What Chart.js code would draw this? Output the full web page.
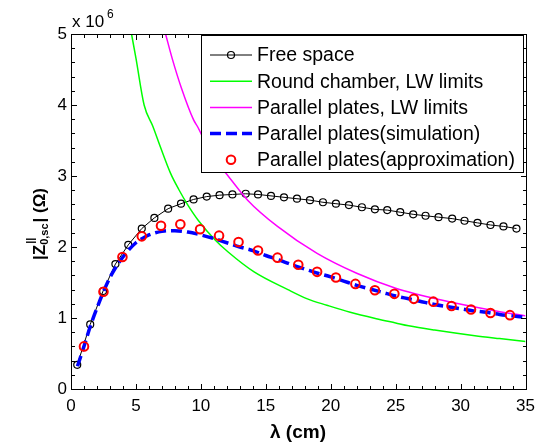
<!DOCTYPE html>
<html>
<head>
  <title>Longitudinal impedance vs wavelength</title>
  <script src="https://cdn.jsdelivr.net/npm/chart.js"></script>
  <style>
    body { margin: 0; background: #fff; }
    canvas { display: block; }
  </style>
</head>
<body>
  <canvas id="myChart" width="542" height="445"></canvas>
  <script>
    // values in units of 10^6 Ohm, lambda in cm
    const freeX = [0.48, 1.48, 2.47, 3.42, 4.41, 5.45, 6.42, 7.48, 8.47, 9.44, 10.45, 11.44, 12.43, 13.45, 14.4, 15.4, 16.4, 17.4, 18.4, 19.4, 20.4, 21.4, 22.4, 23.4, 24.35, 25.35, 26.35, 27.3, 28.3, 29.35, 30.3, 31.3, 32.3, 33.3, 34.3];
    const freeY = [0.34, 0.91, 1.38, 1.76, 2.03, 2.26, 2.41, 2.54, 2.61, 2.67, 2.71, 2.73, 2.74, 2.75, 2.74, 2.72, 2.70, 2.68, 2.66, 2.63, 2.61, 2.59, 2.56, 2.53, 2.52, 2.49, 2.46, 2.44, 2.42, 2.40, 2.37, 2.34, 2.31, 2.29, 2.26];

    const roundX = [4.66, 5.0, 5.63, 6.3, 6.9, 7.66, 8.3, 9.0, 9.82, 11.1, 12.1, 14.1, 16.7, 18.2, 19.7, 21.5, 23.5, 25.0, 26.0, 28.0, 31.1, 33.0, 35.0];
    const roundY = [5.0, 4.66, 4.0, 3.7, 3.4, 3.04, 2.81, 2.59, 2.37, 2.10, 1.93, 1.65, 1.40, 1.27, 1.18, 1.08, 0.99, 0.93, 0.89, 0.83, 0.75, 0.71, 0.67];

    const plateX = [7.28, 7.8, 8.5, 9.44, 9.76, 10.8, 12.1, 13.6, 15.9, 18.95, 22.0, 25.0, 28.6, 32.4, 35.0];
    const plateY = [5.0, 4.65, 4.24, 3.79, 3.69, 3.30, 3.00, 2.66, 2.29, 1.91, 1.63, 1.42, 1.25, 1.11, 1.03];

    const simX = [0.5, 1, 1.5, 2, 2.5, 3, 3.5, 4, 4.5, 5, 5.5, 6, 6.5, 7, 7.5, 8, 9, 10, 11, 12, 13, 14, 15, 16, 17, 18, 19, 20, 21, 22, 23, 24, 25, 26, 27, 28, 29, 30, 31, 32, 33, 34, 35];
    const simY = [0.32, 0.60, 0.89, 1.14, 1.37, 1.57, 1.73, 1.86, 1.97, 2.06, 2.12, 2.17, 2.20, 2.22, 2.23, 2.23, 2.21, 2.17, 2.12, 2.06, 2.00, 1.95, 1.88, 1.82, 1.75, 1.69, 1.63, 1.58, 1.52, 1.46, 1.41, 1.36, 1.31, 1.27, 1.23, 1.19, 1.16, 1.13, 1.10, 1.08, 1.05, 1.03, 1.01];

    const approxX = [1.0, 2.5, 3.96, 5.45, 6.93, 8.42, 9.94, 11.4, 12.9, 14.4, 15.9, 17.5, 18.95, 20.4, 21.9, 23.4, 24.9, 26.4, 27.9, 29.3, 30.8, 32.3, 33.8];
    const approxY = [0.60, 1.37, 1.86, 2.15, 2.30, 2.32, 2.25, 2.16, 2.07, 1.95, 1.85, 1.75, 1.65, 1.57, 1.48, 1.39, 1.34, 1.27, 1.23, 1.17, 1.12, 1.07, 1.04];

    const xTicks = [0, 5, 10, 15, 20, 25, 30, 35];
    const yTicks = [0, 1, 2, 3, 4, 5];

    const pts = (xs, ys) => xs.map((x, i) => ({ x: x, y: ys[i] }));
    const FONT = 'Arial, "Liberation Sans", sans-serif';

    // box + inward ticks; edges taken from the scales themselves
    const axesBox = {
      id: 'axesBox',
      afterDraw(chart) {
        const c = chart.ctx;
        const xs = chart.scales.x, ys = chart.scales.y;
        const L = Math.round(xs.getPixelForValue(0)), R = Math.round(xs.getPixelForValue(35));
        const T = Math.round(ys.getPixelForValue(5)), B = Math.round(ys.getPixelForValue(0));
        c.save();
        c.fillStyle = '#000';
        c.fillRect(L, T, R - L + 1, 1);
        c.fillRect(L, B, R - L + 1, 1);
        c.fillRect(L, T, 1, B - T + 1);
        c.fillRect(R, T, 1, B - T + 1);
        for (let v = 0; v <= 35; v++) {
          const px = Math.round(xs.getPixelForValue(v));
          const len = v % 5 === 0 ? 5 : 3;
          c.fillRect(px, B - len, 1, len);
          c.fillRect(px, T + 1, 1, len);
        }
        for (let k = 0; k <= 25; k++) {
          const py = Math.round(ys.getPixelForValue(k * 0.2));
          const len = k % 5 === 0 ? 5 : 3;
          c.fillRect(L + 1, py, len, 1);
          c.fillRect(R - len, py, len, 1);
        }
        c.restore();
      }
    };

    // legend box, exponent and axis titles
    const extras = {
      id: 'extras',
      afterDraw(chart) {
        const c = chart.ctx;
        c.save();
        const lx = 201, ly = 35, lw = 322, lh = 137;
        c.fillStyle = '#fff';
        c.fillRect(lx, ly, lw, lh);
        c.fillStyle = '#000';
        c.fillRect(lx, ly, lw + 1, 1);
        c.fillRect(lx, ly + lh, lw + 1, 1);
        c.fillRect(lx, ly, 1, lh + 1);
        c.fillRect(lx + lw, ly, 1, lh + 1);
        chart.data.datasets.forEach((ds, row) => {
          const cy = 55 + row * 26.2;
          if (ds.showLine !== false) {
            c.save();
            c.strokeStyle = ds.borderColor;
            c.lineWidth = ds.borderWidth;
            c.setLineDash(ds.borderDash || []);
            c.beginPath();
            c.moveTo(210, cy); c.lineTo(252, cy);
            c.stroke();
            c.restore();
          }
          if (ds.pointRadius > 0) {
            c.save();
            c.strokeStyle = ds.pointBorderColor;
            c.lineWidth = ds.pointBorderWidth;
            c.setLineDash([]);
            c.beginPath();
            c.arc(231, cy, ds.pointRadius, 0, Math.PI * 2);
            c.stroke();
            c.restore();
          }
          c.fillStyle = '#000';
          c.font = '19.5px ' + FONT;
          c.textBaseline = 'middle';
          c.textAlign = 'left';
          c.fillText(ds.label, 257, cy + 1);
        });

        c.fillStyle = '#000';
        c.textBaseline = 'alphabetic';
        c.font = '17px ' + FONT;
        c.fillText('x 10', 72, 27);
        c.font = '12px ' + FONT;
        c.fillText('6', 107, 18);

        c.font = 'bold 19px ' + FONT;
        c.textAlign = 'center';
        c.fillText('\u03bb (cm)', 298, 438);

        c.translate(45, 260);
        c.rotate(-Math.PI / 2);
        c.textAlign = 'left';
        c.font = 'bold 17px ' + FONT;
        let x = 0;
        c.fillText('|Z', x, 0);
        x += c.measureText('|Z').width;
        c.font = 'bold 11px ' + FONT;
        c.fillText('||', x + 1, -11);
        c.fillText('0,sc', x, 3);
        x += c.measureText('0,sc').width + 1;
        c.font = 'bold 17px ' + FONT;
        c.fillText('| (\u03a9)', x, 0);
        c.restore();
      }
    };

    const ctx = document.getElementById('myChart').getContext('2d');
    const myChart = new Chart(ctx, {
      type: 'scatter',
      data: {
        datasets: [
          {
            label: 'Free space',
            data: pts(freeX, freeY),
            showLine: true,
            borderColor: '#000',
            borderWidth: 1,
            pointRadius: 3.5,
            pointBorderColor: '#000',
            pointBorderWidth: 1.2,
            pointBackgroundColor: 'rgba(0,0,0,0)',
            order: 4,
            clip: 0
          },
          {
            label: 'Round chamber, LW limits',
            data: pts(roundX, roundY),
            showLine: true,
            borderColor: '#00ff00',
            borderWidth: 1.5,
            pointRadius: 0,
            cubicInterpolationMode: 'monotone',
            order: 3,
            clip: 0
          },
          {
            label: 'Parallel plates, LW limits',
            data: pts(plateX, plateY),
            showLine: true,
            borderColor: '#ff00ff',
            borderWidth: 1.5,
            pointRadius: 0,
            cubicInterpolationMode: 'monotone',
            order: 2,
            clip: 0
          },
          {
            label: 'Parallel plates(simulation)',
            data: pts(simX, simY),
            showLine: true,
            borderColor: '#0000ff',
            borderWidth: 3.5,
            borderDash: [11, 5],
            pointRadius: 0,
            cubicInterpolationMode: 'monotone',
            order: 1,
            clip: 0
          },
          {
            label: 'Parallel plates(approximation)',
            data: pts(approxX, approxY),
            showLine: false,
            borderColor: '#ff0000',
            pointRadius: 4.3,
            pointBorderColor: '#ff0000',
            pointBorderWidth: 2,
            pointBackgroundColor: 'rgba(0,0,0,0)',
            order: 0,
            clip: 0
          }
        ]
      },
      options: {
        responsive: false,
        animation: false,
        layout: { padding: { top: 34, right: 12, left: 0, bottom: 0 } },
        plugins: { legend: { display: false }, tooltip: { enabled: false } },
        scales: {
          x: {
            type: 'linear',
            min: 0, max: 35,
            afterBuildTicks: s => { s.ticks = xTicks.map(v => ({ value: v })); },
            ticks: { color: '#000', font: { family: FONT, size: 17 }, padding: 7, maxRotation: 0 },
            grid: { display: false, drawTicks: false },
            border: { display: false },
            afterFit: s => { s.height = 56; }
          },
          y: {
            type: 'linear',
            min: 0, max: 5,
            afterBuildTicks: s => { s.ticks = yTicks.map(v => ({ value: v })); },
            ticks: { color: '#000', font: { family: FONT, size: 17 }, padding: 4 },
            grid: { display: false, drawTicks: false },
            border: { display: false },
            afterFit: s => { s.width = 71; }
          }
        }
      },
      plugins: [axesBox, extras]
    });
  </script>
</body>
</html>
